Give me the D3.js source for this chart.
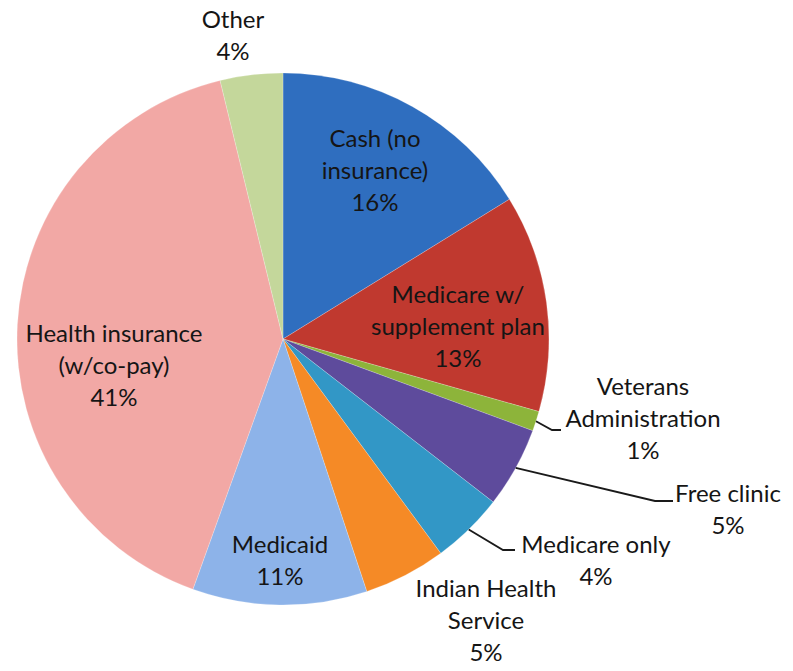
<!DOCTYPE html>
<html>
<head>
<meta charset="utf-8">
<script src="https://cdn.jsdelivr.net/npm/d3@7/dist/d3.min.js"></script>
<style>
  html, body { margin: 0; padding: 0; background: #fff; }
  svg { display: block; }
</style>
</head>
<body>
<svg id="chart" width="793" height="671"></svg>
<script>
// ---- data ----
const categories = ["Cash (no insurance)", "Medicare w/ supplement plan", "Veterans Administration", "Free clinic", "Medicare only", "Indian Health Service", "Medicaid", "Health insurance (w/co-pay)", "Other"];
const values = [16.2, 13.2, 1.2, 4.9, 4.4, 5.0, 10.6, 40.7, 3.8];
const percentLabels = ["16%", "13%", "1%", "5%", "4%", "5%", "11%", "41%", "4%"];
const labelLines = [
  ["Cash (no", "insurance)", "16%"],
  ["Medicare w/", "supplement plan", "13%"],
  ["Veterans", "Administration", "1%"],
  ["Free clinic", "5%"],
  ["Medicare only", "4%"],
  ["Indian Health", "Service", "5%"],
  ["Medicaid", "11%"],
  ["Health insurance", "(w/co-pay)", "41%"],
  ["Other", "4%"]
];
const colors = ["#2f6ebf", "#c0392f", "#8db43a", "#5e4b9c", "#3297c6", "#f58a26", "#8db3e9", "#f2a8a5", "#c4d79b"];

// ---- layout (positions / style) ----
const cx = 283, cy = 339, R = 266;
const lineH = 32;
// first-line baseline center positions for each label
const labelPos = [
  [375, 147], [458, 303], [643, 395], [728, 502], [596, 553],
  [486, 597], [280, 553], [114, 342], [233, 28]
];
// leader lines: [elbow, end] for slices with external labels
const leaders = {
  2: [[552, 430], [561, 430]],
  3: [[655, 501], [673, 501]],
  4: [[503, 550], [515, 550]]
};

const svg = d3.select("#chart");
const g = svg.append("g").attr("transform", `translate(${cx},${cy})`);

const pie = d3.pie().sort(null).value(d => d).startAngle(0).endAngle(2 * Math.PI);
const arcs = pie(values);
const arc = d3.arc().innerRadius(0).outerRadius(R);

g.selectAll("path.slice")
  .data(arcs)
  .join("path")
  .attr("class", "slice")
  .attr("d", arc)
  .attr("fill", (d, i) => colors[i])
  .attr("stroke", "rgba(255,255,255,0.35)")
  .attr("stroke-width", 0.6);

// leader lines
Object.keys(leaders).forEach(k => {
  const i = +k;
  const a = (arcs[i].startAngle + arcs[i].endAngle) / 2;
  const sx = cx + R * Math.sin(a), sy = cy - R * Math.cos(a);
  const pts = [[sx, sy], ...leaders[k]];
  svg.append("path")
    .attr("d", d3.line()(pts))
    .attr("fill", "none")
    .attr("stroke", "#1a1a1a")
    .attr("stroke-width", 1.8);
});

// labels
const labels = svg.selectAll("text.lbl")
  .data(labelLines)
  .join("text")
  .attr("class", "lbl")
  .attr("text-anchor", "middle")
  .attr("font-family", "Lato, 'Open Sans', sans-serif")
  .attr("font-size", 24)
  .attr("fill", "#151515");

labels.each(function(lines, i) {
  const t = d3.select(this);
  lines.forEach((ln, j) => {
    t.append("tspan")
      .attr("x", labelPos[i][0])
      .attr("y", labelPos[i][1] + j * lineH)
      .text(ln);
  });
});
</script>
</body>
</html>
